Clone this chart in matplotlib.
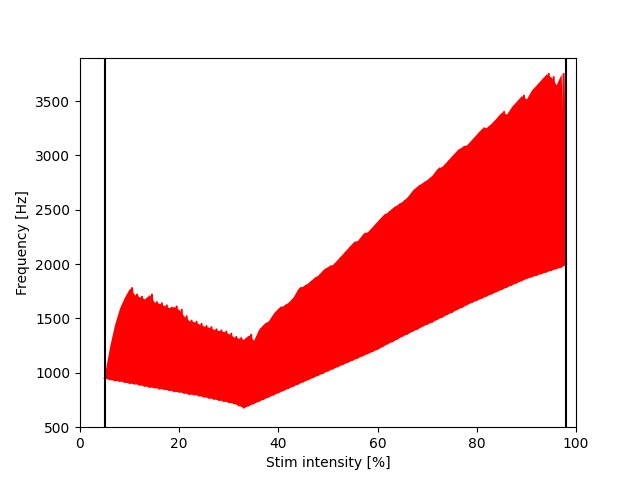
import numpy as np
import matplotlib
matplotlib.use("Agg")
import matplotlib.pyplot as plt

# stim intensity grid (1 % steps)
stim = list(range(5, 99))

# lower envelope (troughs) of the frequency trace
low = [950, 940, 930, 925, 915, 905, 900, 890, 880, 870,
       865, 855, 850, 840, 830, 825, 815, 805, 800, 790,
       780, 770, 760, 750, 740, 730, 720, 700, 680,
       700, 720, 740, 760, 780, 800, 820,
       840, 860, 880, 900, 920, 940, 960, 980, 1000, 1020,
       1040, 1060, 1080, 1100, 1120, 1140, 1160, 1180, 1200, 1220,
       1245, 1270, 1290, 1315, 1340, 1360, 1385, 1405, 1430, 1450,
       1470, 1495, 1515, 1540, 1560, 1585, 1605, 1630, 1650, 1670,
       1690, 1710, 1730, 1750, 1770, 1790, 1810, 1830, 1850, 1870,
       1885, 1900, 1915, 1930, 1945, 1960, 1975, 2000]

# upper envelope (peaks)
high = [1000, 1250, 1450, 1600, 1700, 1780, 1720, 1700, 1680, 1720,
        1650, 1640, 1620, 1600, 1610, 1580, 1520, 1480, 1470, 1450,
        1430, 1420, 1400, 1390, 1380, 1360, 1330, 1320, 1310,
        1350, 1300, 1400, 1450, 1480, 1550, 1600,
        1620, 1650, 1700, 1780, 1800, 1830, 1870, 1900, 1950, 1980,
        2000, 2050, 2100, 2150, 2200, 2220, 2280, 2300, 2350, 2400,
        2450, 2480, 2520, 2550, 2580, 2620, 2680, 2720, 2750, 2780,
        2820, 2880, 2900, 2950, 3000, 3050, 3080, 3100, 3150, 3200,
        3250, 3260, 3300, 3350, 3400, 3380, 3450, 3500, 3550, 3520,
        3600, 3650, 3700, 3750, 3720, 3650, 3750, 2300]

bounds = [5, 98]

x = np.array(stim, dtype=float)
lo = np.array(low, dtype=float)
hi = np.array(high, dtype=float)

# zigzag trace: trough at each step, peak half a step later
zx = np.empty(2 * len(x) - 1)
zy = np.empty(2 * len(x) - 1)
zx[0::2] = x
zy[0::2] = lo
zx[1::2] = x[:-1] + 0.5
zy[1::2] = hi[:-1]

fig, ax = plt.subplots(figsize=(6.4, 4.8), dpi=100)
ax.fill_between(x, lo, hi, color="red", lw=0)
ax.plot(zx, zy, color="red", lw=1.5)
for b in bounds:
    ax.axvline(b, color="black", lw=1.5)
ax.set_xlim(0, 100)
ax.set_ylim(500, 3900)
ax.set_xlabel("Stim intensity [%]")
ax.set_ylabel("Frequency [Hz]")
plt.savefig("out.png", dpi=100)
